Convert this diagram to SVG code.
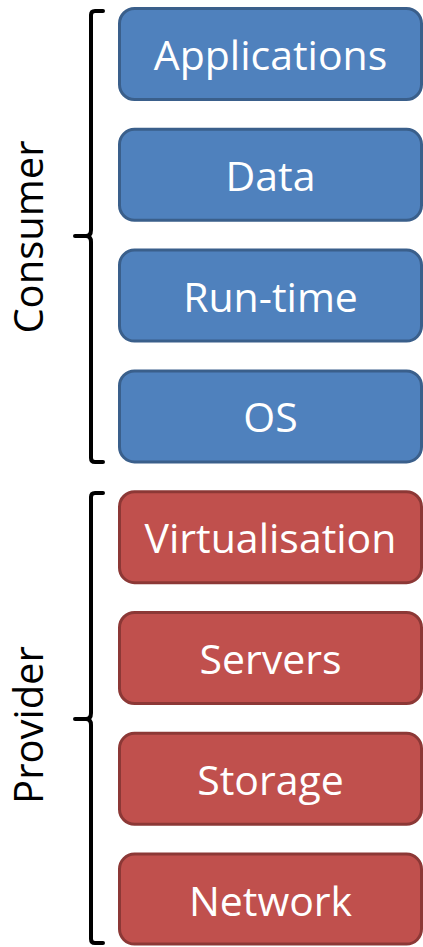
<svg xmlns="http://www.w3.org/2000/svg" width="423" height="947" viewBox="0 0 423 947">
<style>
.box{stroke-width:3}
.blue{fill:#4F81BD;stroke:#3A5F8B}
.red{fill:#C0504D;stroke:#8C3836}
.t{font-family:"Open Sans","Liberation Sans",sans-serif;font-size:41px;fill:#FFFFFF;text-anchor:middle}
.lbl{font-family:"Open Sans","Liberation Sans",sans-serif;font-size:40px;fill:#000000;text-anchor:middle}
.br{fill:none;stroke:#000000;stroke-width:4;stroke-linecap:round;stroke-linejoin:round}
</style>
<rect width="423" height="947" fill="#FFFFFF"/>
<g id="applications"><rect class="box blue" x="119.5" y="8.5" width="302" height="91" rx="15"/><text class="t" x="270.5" y="70">Applications</text></g>
<g id="data"><rect class="box blue" x="119.5" y="129.3" width="302" height="91" rx="15"/><text class="t" x="270.5" y="190.8">Data</text></g>
<g id="runtime"><rect class="box blue" x="119.5" y="250.1" width="302" height="91" rx="15"/><text class="t" x="270.5" y="311.6">Run-time</text></g>
<g id="os"><rect class="box blue" x="119.5" y="370.9" width="302" height="91" rx="15"/><text class="t" x="270.5" y="432.4">OS</text></g>
<g id="virtualisation"><rect class="box red" x="119.5" y="491.7" width="302" height="91" rx="15"/><text class="t" x="270.5" y="553.2">Virtualisation</text></g>
<g id="servers"><rect class="box red" x="119.5" y="612.5" width="302" height="91" rx="15"/><text class="t" x="270.5" y="674">Servers</text></g>
<g id="storage"><rect class="box red" x="119.5" y="733.3" width="302" height="91" rx="15"/><text class="t" x="270.5" y="794.8">Storage</text></g>
<g id="network"><rect class="box red" x="119.5" y="854.1" width="302" height="90" rx="15"/><text class="t" x="270.5" y="915.6">Network</text></g>
<g id="connectors">
<path class="br" d="M103,11 H95 Q91,11 91,15 V230 Q91,236 86,236 H75 M86,236 Q91,236 91,242 V458 Q91,462 95,462 H103"/>
<path class="br" d="M103,493 H95 Q91,493 91,497 V713 Q91,719 86,719 H75 M86,719 Q91,719 91,725 V939 Q91,943 95,943 H103"/>
</g>
<g id="consumer"><text class="lbl" transform="translate(43,237) rotate(-90)" x="0" y="0">Consumer</text></g>
<g id="provider"><text class="lbl" transform="translate(43,725) rotate(-90)" x="0" y="0">Provider</text></g>
</svg>
